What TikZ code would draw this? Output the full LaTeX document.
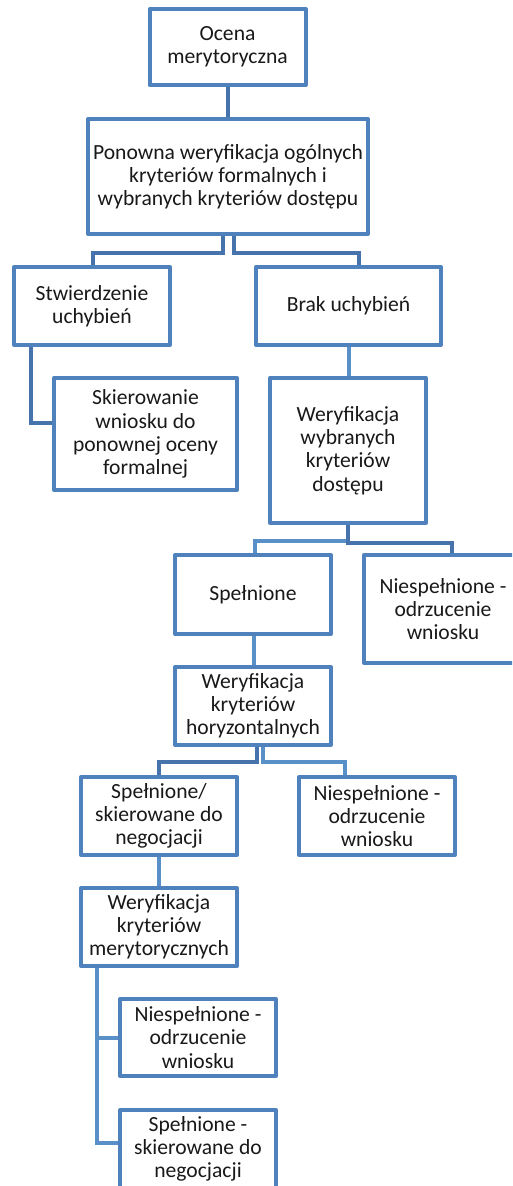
\documentclass[tikz,border=0pt]{standalone}
\usepackage{fontspec}
\setmainfont{Carlito}
\newdimen\pxu
\pxu=0.75pt
\definecolor{boxblue}{HTML}{4F81BD}
\definecolor{conndark}{HTML}{4673AC}
\definecolor{connlight}{HTML}{5A90C8}
\begin{document}
\begin{tikzpicture}[x=0.75pt,y=-0.75pt,
  box/.style={draw=boxblue,line width=4*\pxu,line join=round,fill=white,
    align=center,inner sep=0pt,font=\fontsize{16.2}{17.4}\selectfont,text=black!90},
  conn/.style={draw=conndark,line width=4*\pxu},
  connl/.style={draw=connlight,line width=4*\pxu}]
\useasboundingbox (0,0) rectangle (512,1186);
\clip (0,0) rectangle (512,1186);
\node[box,minimum width=156*\pxu,minimum height=76*\pxu] (b1) at (227.5,47) {Ocena\\merytoryczna};
\node[box,minimum width=280*\pxu,minimum height=115*\pxu] (b2) at (228,176.5) {Ponowna weryfikacja ogólnych\\kryteriów formalnych i\\wybranych kryteriów dostępu};
\node[box,minimum width=156*\pxu,minimum height=78*\pxu] (b3) at (92,306) {Stwierdzenie\\uchybień};
\node[box,minimum width=185*\pxu,minimum height=78*\pxu] (b4) at (348.5,306) {Brak uchybień};
\node[box,minimum width=183*\pxu,minimum height=112*\pxu] (b5) at (145.5,434) {Skierowanie\\wniosku do\\ponownej oceny\\formalnej};
\node[box,minimum width=156*\pxu,minimum height=145*\pxu] (b6) at (348,450.5) {Weryfikacja\\wybranych\\kryteriów\\dostępu};
\node[box,minimum width=156*\pxu,minimum height=79*\pxu] (b7) at (253,594.5) {Spełnione};
\node[box,minimum width=158*\pxu,minimum height=108*\pxu] (b8) at (443,609) {Niespełnione -\\odrzucenie\\wniosku};
\node[box,minimum width=156*\pxu,minimum height=78*\pxu] (b9) at (253,706) {Weryfikacja\\kryteriów\\horyzontalnych};
\node[box,minimum width=156*\pxu,minimum height=78*\pxu] (b10) at (159,816) {Spełnione/\\skierowane do\\negocjacji};
\node[box,minimum width=156*\pxu,minimum height=78*\pxu] (b11) at (377,816) {Niespełnione -\\odrzucenie\\wniosku};
\node[box,minimum width=156*\pxu,minimum height=78*\pxu] (b12) at (159,927) {Weryfikacja\\kryteriów\\merytorycznych};
\node[box,minimum width=156*\pxu,minimum height=77*\pxu] (b13) at (198,1037.5) {Niespełnione -\\odrzucenie\\wniosku};
\node[box,minimum width=156*\pxu,minimum height=78*\pxu] (b14) at (198,1149) {Spełnione -\\skierowane do\\negocjacji};
% connectors
\draw[conn] (b1.south) -- (b1.south |- b2.north);
\draw[conn] ([xshift=-5.5*\pxu]b2.south) -- ++(0,17) -| ([xshift=1*\pxu]b3.north);
\draw[conn] ([xshift=5.5*\pxu]b2.south) -- ++(0,17) -| ([xshift=10.5*\pxu]b4.north);
\draw[conn] ([xshift=-61.5*\pxu]b3.south) |- ([yshift=11*\pxu]b5.west);
\draw[connl] (b4.south) -- (b4.south |- b6.north);
\draw[connl] (b6.south) -- ++(0,16) -| ([xshift=2*\pxu]b7.north);
\draw[conn] (b6.south) -- ++(0,18) -| ([xshift=9*\pxu]b8.north);
\draw[connl] ([xshift=1*\pxu]b7.south) -- ([xshift=1*\pxu]b7.south |- b9.north);
\draw[conn] ([xshift=3.5*\pxu]b9.south) -- ++(0,15) -| (b10.north);
\draw[connl] ([xshift=9.5*\pxu]b9.south) -- ++(0,15) -| ([xshift=-32*\pxu]b11.north);
\draw[connl] (b10.south) -- (b10.south |- b12.north);
\draw[connl] ([xshift=-62*\pxu]b12.south) |- (b13.west);
\draw[connl] ([xshift=-62*\pxu]b12.south) |- ([yshift=6*\pxu]b14.west);
\end{tikzpicture}
\end{document}
